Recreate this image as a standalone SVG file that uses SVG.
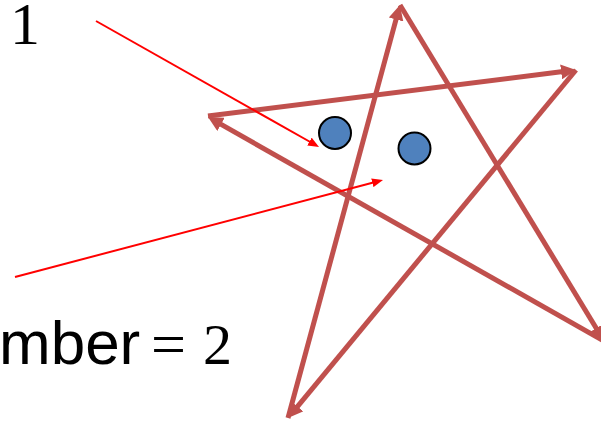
<svg xmlns="http://www.w3.org/2000/svg" width="601" height="423" viewBox="0 0 601 423">
<style>
.star{stroke:#C0504D;stroke-width:5;fill:none}
.thin{stroke:#FF0000;stroke-width:2;fill:none}
.dot{fill:#4F81BD;stroke:#000;stroke-width:2}
.serif{font-family:"Liberation Serif","Times New Roman",serif;fill:#000}
.sans{font-family:"Liberation Sans",Arial,sans-serif;fill:#000}
</style>
<defs>
<marker id="ah" markerUnits="userSpaceOnUse" markerWidth="15" markerHeight="15" refX="6" refY="7.5" orient="auto" viewBox="0 0 15 15">
<path d="M0,0 L15,7.5 L0,15 z" fill="#C0504D"/>
</marker>
<marker id="ahr" markerUnits="userSpaceOnUse" markerWidth="11" markerHeight="9" refX="5" refY="4.5" orient="auto" viewBox="0 0 11 9">
<path d="M0,0 L11,4.5 L0,9 z" fill="#FF0000"/>
</marker>
</defs>
<rect width="601" height="423" fill="#fff"/>
<g id="connectors">
<line class="star" x1="288" y1="418" x2="397.6" y2="13.7" marker-end="url(#ah)"/>
<line class="star" x1="400" y1="5" x2="599.3" y2="333.3" marker-end="url(#ah)"/>
<line class="star" x1="604" y1="341" x2="215.8" y2="121.4" marker-end="url(#ah)"/>
<line class="star" x1="208" y1="116" x2="567.1" y2="71.1" marker-end="url(#ah)"/>
<line class="star" x1="576" y1="70" x2="293.7" y2="411.1" marker-end="url(#ah)"/>
<line class="thin" x1="96" y1="21" x2="313.8" y2="144" marker-end="url(#ahr)"/>
<line class="thin" x1="15" y1="277" x2="377.2" y2="181.5" marker-end="url(#ahr)"/>
</g>
<g id="dot1"><circle class="dot" cx="335" cy="133" r="16"/></g>
<g id="dot2"><circle class="dot" cx="414.5" cy="148.5" r="16"/></g>
<g id="label1"><text class="serif" x="10" y="44" font-size="60">1</text></g>
<g id="label2"><text y="364"><tspan class="sans" x="-1" font-size="62">mber</tspan><tspan class="serif" x="151" font-size="60" textLength="35" lengthAdjust="spacingAndGlyphs">=</tspan><tspan class="serif" x="203" font-size="58">2</tspan></text></g>
</svg>
